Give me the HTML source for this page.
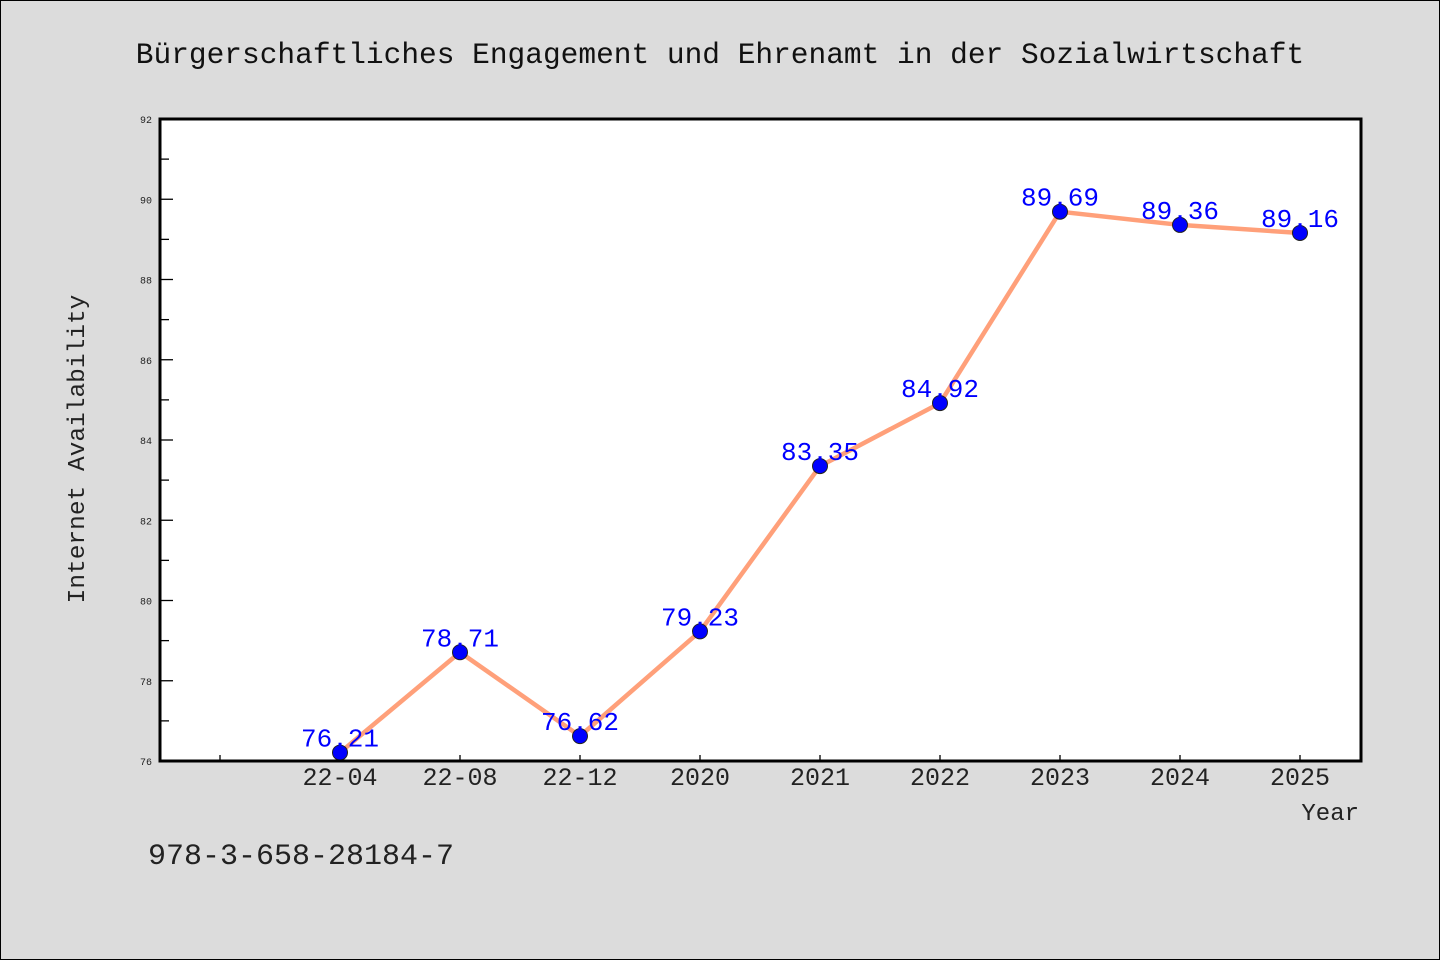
<!DOCTYPE html>
<html><head><meta charset="utf-8"><style>
body{margin:0;background:#dcdcdc}
svg{display:block;font-family:"Liberation Mono","WenQuanYi Zen Hei",monospace}
</style></head><body>
<svg width="1440" height="960" xmlns="http://www.w3.org/2000/svg">
<rect x="0.5" y="0.5" width="1439" height="959" fill="#dcdcdc" stroke="#000"/>
<text x="720" y="63" font-size="29.5" text-anchor="middle" fill="#111">Bürgerschaftliches Engagement und Ehrenamt in der Sozialwirtschaft</text>
<rect x="160" y="119" width="1201" height="642" fill="#fff"/>
<g id="axes"></g>
<g id="marks"></g>
<rect x="160" y="119" width="1201" height="642" fill="none" stroke="#000" stroke-width="3"/>
<text transform="translate(84,449) rotate(-90)" font-size="24.5" text-anchor="middle" fill="#222">Internet Availability</text>
<text x="1359" y="820" font-size="24" text-anchor="end" fill="#222">Year</text>
<text x="148" y="864" font-size="30" fill="#222">978-3-658-28184-7</text>
</svg>
<script>
const categories=["22-04","22-08","22-12","2020","2021","2022","2023","2024","2025"];
const values=[76.21,78.71,76.62,79.23,83.35,84.92,89.69,89.36,89.16];
const labels=["76.21","78.71","76.62","79.23","83.35","84.92","89.69","89.36","89.16"];
const yTicks=[76,78,80,82,84,86,88,90,92];
const NS="http://www.w3.org/2000/svg";
const yMin=76,yMax=92,yTop=119,yBot=761;
function y(v){return yBot-(v-yMin)/(yMax-yMin)*(yBot-yTop);}
function x(i){return 340+120*i;}
function mk(t,a,p){const e=document.createElementNS(NS,t);for(const k in a)e.setAttribute(k,a[k]);p.appendChild(e);return e;}
const ax=document.getElementById('axes'),mg=document.getElementById('marks');
yTicks.forEach((v,k)=>{
  const l=mk('line',{x1:160,x2:173,y1:y(v),y2:y(v),stroke:'#000','stroke-width':1.3},ax);
  
  
  const t=mk('text',{x:152,y:y(v)+4,'font-size':10,'text-anchor':'end',fill:'#222'},ax);
  t.textContent=v;
  
  
  if(k<yTicks.length-1){const m=mk('line',{x1:160,x2:169,y1:y(v+1),y2:y(v+1),stroke:'#000','stroke-width':1.3},ax);
  
  }
});
for(let i=-1;i<categories.length;i++){
  const l=mk('line',{x1:x(i),x2:x(i),y1:yBot,y2:yBot-6,stroke:'#000','stroke-width':1.3},ax);
  
  
  if(i>=0){const t=mk('text',{x:x(i),y:785,'font-size':25,'text-anchor':'middle',fill:'#222'},ax);
  t.textContent=categories[i];
  
  }
}
const pl=mk('polyline',{points:values.map((v,i)=>x(i)+','+y(v)).join(' '),fill:'none',stroke:'#ffa07a','stroke-width':4.5,'stroke-linejoin':'round'},mg);


values.forEach((v,i)=>{
  const c=mk('circle',{cx:x(i),cy:y(v),r:7.5,fill:'#0000ff',stroke:'#222','stroke-width':1},mg);
  
  
  const t=mk('text',{x:x(i),y:y(v)-6,'font-size':26,'text-anchor':'middle',fill:'#0000ff'},mg);
  t.textContent=labels[i];
  
  
});
</script>
</body></html>
